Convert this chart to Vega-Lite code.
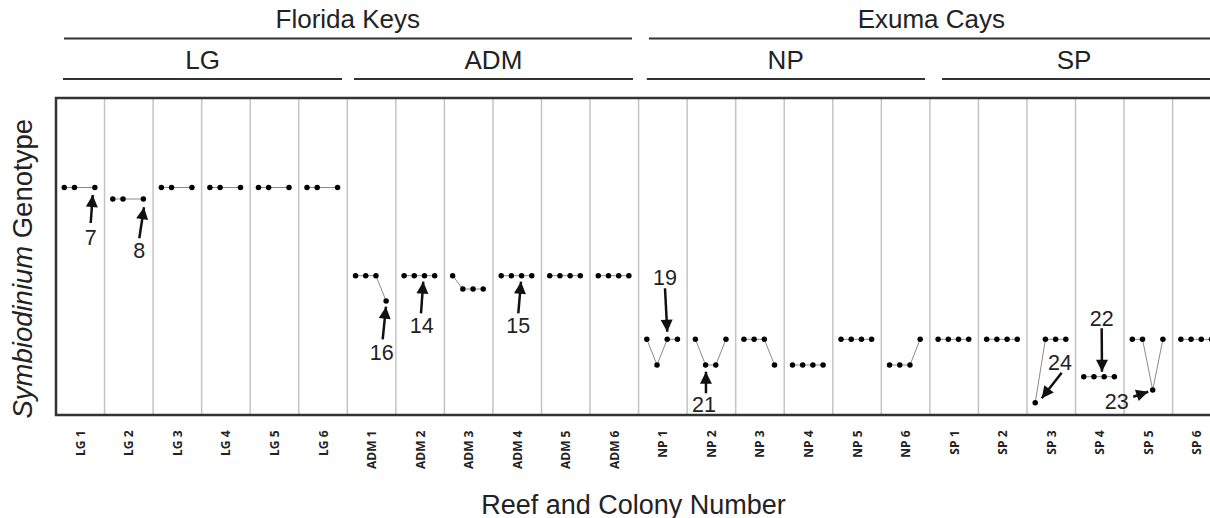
{
  "$schema": "https://vega.github.io/schema/vega-lite/v6.json",
  "width": 1154,
  "height": 317,
  "autosize": {"type": "none"},
  "padding": {"left": 56, "top": 98, "right": 0, "bottom": 103},
  "background": "white",
  "config": {"view": {"stroke": null}, "font": "Liberation Sans"},
  "datasets": {
    "seps": [{"b":1},{"b":2},{"b":3},{"b":4},{"b":5},{"b":6},{"b":7},{"b":8},{"b":9},{"b":10},{"b":11},{"b":12},{"b":13},{"b":14},{"b":15},{"b":16},{"b":17},{"b":18},{"b":19},{"b":20},{"b":21},{"b":22},{"b":23}],
    "box": [{"x0": 0, "x1": 24.5, "y0": 0, "y1": 31.7}],
    "pts": [
      {"colony":"LG 1","pos":0.17,"g":8.95},{"colony":"LG 1","pos":0.38,"g":8.95},{"colony":"LG 1","pos":0.80,"g":8.95},
      {"colony":"LG 2","pos":1.17,"g":10.1},{"colony":"LG 2","pos":1.38,"g":10.1},{"colony":"LG 2","pos":1.80,"g":10.1},
      {"colony":"LG 3","pos":2.17,"g":8.95},{"colony":"LG 3","pos":2.38,"g":8.95},{"colony":"LG 3","pos":2.80,"g":8.95},
      {"colony":"LG 4","pos":3.17,"g":8.95},{"colony":"LG 4","pos":3.38,"g":8.95},{"colony":"LG 4","pos":3.80,"g":8.95},
      {"colony":"LG 5","pos":4.17,"g":8.95},{"colony":"LG 5","pos":4.38,"g":8.95},{"colony":"LG 5","pos":4.80,"g":8.95},
      {"colony":"LG 6","pos":5.17,"g":8.95},{"colony":"LG 6","pos":5.38,"g":8.95},{"colony":"LG 6","pos":5.80,"g":8.95},
      {"colony":"ADM 1","pos":6.17,"g":17.77},{"colony":"ADM 1","pos":6.38,"g":17.77},{"colony":"ADM 1","pos":6.59,"g":17.77},{"colony":"ADM 1","pos":6.80,"g":20.3},
      {"colony":"ADM 2","pos":7.17,"g":17.77},{"colony":"ADM 2","pos":7.38,"g":17.77},{"colony":"ADM 2","pos":7.59,"g":17.77},{"colony":"ADM 2","pos":7.80,"g":17.77},
      {"colony":"ADM 3","pos":8.17,"g":17.77},{"colony":"ADM 3","pos":8.38,"g":19.1},{"colony":"ADM 3","pos":8.59,"g":19.1},{"colony":"ADM 3","pos":8.80,"g":19.1},
      {"colony":"ADM 4","pos":9.17,"g":17.77},{"colony":"ADM 4","pos":9.38,"g":17.77},{"colony":"ADM 4","pos":9.59,"g":17.77},{"colony":"ADM 4","pos":9.80,"g":17.77},
      {"colony":"ADM 5","pos":10.17,"g":17.77},{"colony":"ADM 5","pos":10.38,"g":17.77},{"colony":"ADM 5","pos":10.59,"g":17.77},{"colony":"ADM 5","pos":10.80,"g":17.77},
      {"colony":"ADM 6","pos":11.17,"g":17.77},{"colony":"ADM 6","pos":11.38,"g":17.77},{"colony":"ADM 6","pos":11.59,"g":17.77},{"colony":"ADM 6","pos":11.80,"g":17.77},
      {"colony":"NP 1","pos":12.17,"g":24.13},{"colony":"NP 1","pos":12.38,"g":26.7},{"colony":"NP 1","pos":12.59,"g":24.13},{"colony":"NP 1","pos":12.80,"g":24.13},
      {"colony":"NP 2","pos":13.17,"g":24.13},{"colony":"NP 2","pos":13.38,"g":26.7},{"colony":"NP 2","pos":13.59,"g":26.7},{"colony":"NP 2","pos":13.80,"g":24.13},
      {"colony":"NP 3","pos":14.17,"g":24.13},{"colony":"NP 3","pos":14.38,"g":24.13},{"colony":"NP 3","pos":14.59,"g":24.13},{"colony":"NP 3","pos":14.80,"g":26.7},
      {"colony":"NP 4","pos":15.17,"g":26.7},{"colony":"NP 4","pos":15.38,"g":26.7},{"colony":"NP 4","pos":15.59,"g":26.7},{"colony":"NP 4","pos":15.80,"g":26.7},
      {"colony":"NP 5","pos":16.17,"g":24.13},{"colony":"NP 5","pos":16.38,"g":24.13},{"colony":"NP 5","pos":16.59,"g":24.13},{"colony":"NP 5","pos":16.80,"g":24.13},
      {"colony":"NP 6","pos":17.17,"g":26.7},{"colony":"NP 6","pos":17.38,"g":26.7},{"colony":"NP 6","pos":17.59,"g":26.7},{"colony":"NP 6","pos":17.80,"g":24.13},
      {"colony":"SP 1","pos":18.17,"g":24.13},{"colony":"SP 1","pos":18.38,"g":24.13},{"colony":"SP 1","pos":18.59,"g":24.13},{"colony":"SP 1","pos":18.80,"g":24.13},
      {"colony":"SP 2","pos":19.17,"g":24.13},{"colony":"SP 2","pos":19.38,"g":24.13},{"colony":"SP 2","pos":19.59,"g":24.13},{"colony":"SP 2","pos":19.80,"g":24.13},
      {"colony":"SP 3","pos":20.17,"g":30.47},{"colony":"SP 3","pos":20.38,"g":24.13},{"colony":"SP 3","pos":20.59,"g":24.13},{"colony":"SP 3","pos":20.80,"g":24.13},
      {"colony":"SP 4","pos":21.17,"g":27.87},{"colony":"SP 4","pos":21.38,"g":27.87},{"colony":"SP 4","pos":21.59,"g":27.87},{"colony":"SP 4","pos":21.80,"g":27.87},
      {"colony":"SP 5","pos":22.17,"g":24.13},{"colony":"SP 5","pos":22.38,"g":24.13},{"colony":"SP 5","pos":22.59,"g":29.2},{"colony":"SP 5","pos":22.80,"g":24.13},
      {"colony":"SP 6","pos":23.17,"g":24.13},{"colony":"SP 6","pos":23.38,"g":24.13},{"colony":"SP 6","pos":23.59,"g":24.13},{"colony":"SP 6","pos":23.80,"g":24.13}
    ],
    "arrows": [
      {"label":"7","tx":0.715,"ty":12.5,"hx":0.756,"hy":9.7,"ang":4,"lx":0.715,"ly":14.7},
      {"label":"8","tx":1.716,"ty":14.03,"hx":1.813,"hy":10.93,"ang":9,"lx":1.716,"ly":16.0},
      {"label":"16","tx":6.729,"ty":24.13,"hx":6.797,"hy":20.87,"ang":6,"lx":6.709,"ly":26.2},
      {"label":"14","tx":7.518,"ty":21.53,"hx":7.565,"hy":18.37,"ang":4,"lx":7.532,"ly":23.53},
      {"label":"15","tx":9.522,"ty":21.53,"hx":9.578,"hy":18.37,"ang":5,"lx":9.522,"ly":23.53},
      {"label":"19","tx":12.544,"ty":19.03,"hx":12.591,"hy":23.37,"ang":177,"lx":12.544,"ly":18.7},
      {"label":"21","tx":13.388,"ty":29.53,"hx":13.388,"hy":27.37,"ang":0,"lx":13.347,"ly":31.37},
      {"label":"22","tx":21.539,"ty":23.03,"hx":21.545,"hy":27.37,"ang":180,"lx":21.539,"ly":22.8},
      {"label":"24","tx":20.715,"ty":27.47,"hx":20.303,"hy":30.03,"ang":218,"lx":20.68,"ly":27.2},
      {"label":"23","tx":22.189,"ty":29.87,"hx":22.498,"hy":29.37,"ang":72,"lx":21.848,"ly":31.13}
    ],
    "headers": [
      {"name":"Florida Keys","x0":0.165,"x1":11.864,"mid":6.01,"lvl":-5.95},
      {"name":"Exuma Cays","x0":12.214,"x1":23.9,"mid":18.03,"lvl":-5.95},
      {"name":"LG","x0":0.144,"x1":5.891,"mid":3.02,"lvl":-1.9},
      {"name":"ADM","x0":6.138,"x1":11.885,"mid":9.01,"lvl":-1.9},
      {"name":"NP","x0":12.17,"x1":17.9,"mid":15.03,"lvl":-1.9},
      {"name":"SP","x0":18.25,"x1":23.9,"mid":20.97,"lvl":-1.9}
    ]
  },
  "layer": [
    {
      "data": {"name": "seps"},
      "mark": {"type": "rule", "color": "#c4c4c4", "strokeWidth": 1.5},
      "encoding": {
        "x": {"field": "b", "type": "quantitative", "scale": {"domain": [0, 23.77], "nice": false, "zero": false}, "axis": null}
      }
    },
    {
      "data": {"name": "box"},
      "mark": {"type": "rect", "fillOpacity": 0, "stroke": "#333333", "strokeWidth": 2.5},
      "encoding": {
        "x": {"field": "x0", "type": "quantitative", "scale": {"domain": [0, 23.77], "nice": false, "zero": false}, "axis": null},
        "x2": {"field": "x1"},
        "y": {"field": "y0", "type": "quantitative", "scale": {"domain": [0, 31.7], "nice": false, "zero": false, "reverse": true}, "axis": null},
        "y2": {"field": "y1"}
      }
    },
    {
      "data": {"name": "pts"},
      "mark": {"type": "line", "color": "#8a8a8a", "strokeWidth": 1},
      "encoding": {
        "x": {"field": "pos", "type": "quantitative", "scale": {"domain": [0, 23.77], "nice": false, "zero": false}, "axis": null},
        "y": {"field": "g", "type": "quantitative", "scale": {"domain": [0, 31.7], "nice": false, "zero": false, "reverse": true},
              "axis": {"orient": "left", "title": "Genotype", "labels": false, "ticks": false, "domain": false, "grid": false,
                       "titleFont": "Liberation Sans", "titleFontSize": 27.5, "titleFontWeight": "normal", "titleColor": "#222222",
                       "titleAngle": -90, "titleAlign": "right", "titleBaseline": "alphabetic", "titleX": -25, "titleY": 20.5}},
        "detail": {"field": "colony", "type": "nominal"}
      }
    },
    {
      "data": {"name": "pts"},
      "mark": {"type": "point", "filled": true, "color": "#000000", "opacity": 1, "size": 30},
      "encoding": {
        "x": {"field": "pos", "type": "quantitative", "scale": {"domain": [0, 23.77], "nice": false, "zero": false},
              "axis": {"title": "Reef and Colony Number", "values": [0.5,1.5,2.5,3.5,4.5,5.5,6.5,7.5,8.5,9.5,10.5,11.5,12.5,13.5,14.5,15.5,16.5,17.5,18.5,19.5,20.5,21.5,22.5,23.5],
                       "labelExpr": "['LG 1','LG 2','LG 3','LG 4','LG 5','LG 6','ADM 1','ADM 2','ADM 3','ADM 4','ADM 5','ADM 6','NP 1','NP 2','NP 3','NP 4','NP 5','NP 6','SP 1','SP 2','SP 3','SP 4','SP 5','SP 6'][floor(datum.value)]",
                       "labelAngle": -90, "labelAlign": "right", "labelBaseline": "middle", "labelFont": "Open Sans", "labelFontWeight": "bold", "labelFontSize": 12, "labelColor": "#222222",
                       "labelPadding": 15, "ticks": false, "tickSize": 0, "domain": false, "grid": false, "labelOverlap": false,
                       "titleFont": "Liberation Sans", "titleFontSize": 27, "titleFontWeight": "normal", "titleColor": "#222222", "titleBaseline": "alphabetic", "titleY": 98}},
        "y": {"field": "g", "type": "quantitative", "scale": {"domain": [0, 31.7], "nice": false, "zero": false, "reverse": true},
              "axis": {"orient": "left", "title": "Symbiodinium", "labels": false, "ticks": false, "domain": false, "grid": false,
                       "titleFont": "Liberation Sans", "titleFontSize": 27.5, "titleFontWeight": "normal", "titleFontStyle": "italic", "titleColor": "#222222",
                       "titleAngle": -90, "titleAlign": "left", "titleBaseline": "alphabetic", "titleX": -25, "titleY": 320}}
      }
    },
    {
      "data": {"name": "headers"},
      "mark": {"type": "rule", "color": "#333333", "strokeWidth": 2.2},
      "encoding": {
        "x": {"field": "x0", "type": "quantitative", "scale": {"domain": [0, 23.77], "nice": false, "zero": false}, "axis": null},
        "x2": {"field": "x1"},
        "y": {"field": "lvl", "type": "quantitative", "scale": {"domain": [0, 31.7], "nice": false, "zero": false, "reverse": true}, "axis": null}
      }
    },
    {
      "data": {"name": "headers"},
      "mark": {"type": "text", "font": "Liberation Sans", "fontSize": 26, "color": "#222222", "align": "center", "baseline": "alphabetic", "dy": -10.5},
      "encoding": {
        "x": {"field": "mid", "type": "quantitative", "scale": {"domain": [0, 23.77], "nice": false, "zero": false}, "axis": null},
        "y": {"field": "lvl", "type": "quantitative", "scale": {"domain": [0, 31.7], "nice": false, "zero": false, "reverse": true}, "axis": null},
        "text": {"field": "name", "type": "nominal"}
      }
    },
    {
      "data": {"name": "arrows"},
      "mark": {"type": "rule", "color": "#111111", "strokeWidth": 2.5},
      "encoding": {
        "x": {"field": "tx", "type": "quantitative", "scale": {"domain": [0, 23.77], "nice": false, "zero": false}, "axis": null},
        "y": {"field": "ty", "type": "quantitative", "scale": {"domain": [0, 31.7], "nice": false, "zero": false, "reverse": true}, "axis": null},
        "x2": {"field": "hx"},
        "y2": {"field": "hy"}
      }
    },
    {
      "data": {"name": "arrows"},
      "mark": {"type": "point", "shape": "M0,0L-2,4L2,4Z", "filled": true, "color": "#111111", "opacity": 1, "size": 36},
      "encoding": {
        "x": {"field": "hx", "type": "quantitative", "scale": {"domain": [0, 23.77], "nice": false, "zero": false}, "axis": null},
        "y": {"field": "hy", "type": "quantitative", "scale": {"domain": [0, 31.7], "nice": false, "zero": false, "reverse": true}, "axis": null},
        "angle": {"field": "ang", "type": "quantitative", "scale": null}
      }
    },
    {
      "data": {"name": "arrows"},
      "mark": {"type": "text", "font": "Liberation Sans", "fontSize": 21.5, "color": "#222222", "align": "center", "baseline": "alphabetic"},
      "encoding": {
        "x": {"field": "lx", "type": "quantitative", "scale": {"domain": [0, 23.77], "nice": false, "zero": false}, "axis": null},
        "y": {"field": "ly", "type": "quantitative", "scale": {"domain": [0, 31.7], "nice": false, "zero": false, "reverse": true}, "axis": null},
        "text": {"field": "label", "type": "nominal"}
      }
    }
  ],
  "resolve": {"axis": {"x": "independent", "y": "independent"}}
}
